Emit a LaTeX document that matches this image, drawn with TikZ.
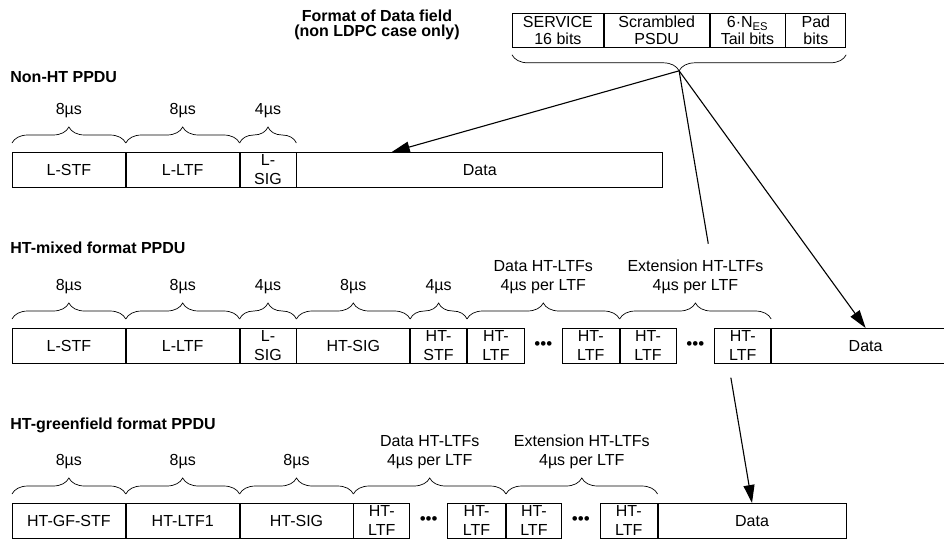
\documentclass[tikz,border=0pt]{standalone}
\usepackage{fontspec}
\setmainfont{Liberation Sans}
\usetikzlibrary{arrows.meta,positioning,calc,decorations.pathreplacing}
\tikzset{
  fld/.style={draw,minimum height=35pt,minimum width=#1,inner sep=0pt,align=center},
  bits/.style={draw,minimum height=34pt,minimum width=#1,inner sep=0pt,align=center,font=\fontsize{16pt}{17pt}\selectfont},
  ttl/.style={font=\fontsize{16pt}{16pt}\selectfont\bfseries,anchor=west,inner sep=0pt},
  brc/.style={decorate,decoration={brace,amplitude=16pt},line width=0.7pt},
  lbl/.style={midway,above=25pt,inner sep=0pt,align=center},
  dots/.style={font=\fontsize{17pt}{17pt}\selectfont,inner sep=0pt},
}

\begin{document}
\begin{tikzpicture}[x=1pt,y=-1pt,>={Triangle[length=18pt,width=11pt]},line width=0.8pt,font=\fontsize{16pt}{19pt}\selectfont]
  \clip (0,0) rectangle (944,539);
  % format of the data field
  \node[ttl,anchor=center,align=center,font=\fontsize{16pt}{15pt}\selectfont\bfseries] (fmtT) at (377,25) {Format of Data field\\(non LDPC case only)};
  \node[bits=91pt,anchor=north west] (svc) at (512,13) {SERVICE\\16 bits};
  \node[bits=105pt,right=0pt of svc] (psdu) {Scrambled\\PSDU};
  \node[bits=75pt,right=0pt of psdu] (tail) {6·N\textsubscript{ES}\\Tail bits};
  \node[bits=60pt,right=0pt of tail] (pad) {Pad\\bits};
  \draw[decorate,decoration={brace,mirror,amplitude=16pt},line width=0.7pt] ([yshift=-7pt]svc.south west) -- ([yshift=-7pt]pad.south east);
  \coordinate (fmt) at ($(svc.south west)!.5!(pad.south east)+(0,23)$);

  % Non-HT
  \node[ttl] (nhT) at (10,77) {Non-HT PPDU};
  \node[fld=113pt,anchor=north west] (nhA) at (12,152) {L-STF};
  \node[fld=113pt,right=0pt of nhA] (nhB) {L-LTF};
  \node[fld=56pt,right=0pt of nhB] (nhC) {L-\\SIG};
  \node[fld=366pt,right=0pt of nhC] (nhD) {Data};
  \draw[brc] ([yshift=9pt]nhA.north west) -- ([yshift=9pt]nhA.north east) node[lbl] {8µs};
  \draw[brc] ([yshift=9pt]nhB.north west) -- ([yshift=9pt]nhB.north east) node[lbl] {8µs};
  \draw[brc] ([yshift=9pt]nhC.north west) -- ([yshift=9pt]nhC.north east) node[lbl] {4µs};

  % HT-mixed
  \node[ttl] (mxT) at (10,248) {HT-mixed format PPDU};
  \node[fld=113pt,anchor=north west] (mxA) at (12,328) {L-STF};
  \node[fld=113pt,right=0pt of mxA] (mxB) {L-LTF};
  \node[fld=56pt,right=0pt of mxB] (mxC) {L-\\SIG};
  \node[fld=113pt,right=0pt of mxC] (mxD) {HT-SIG};
  \node[fld=56pt,right=0pt of mxD] (mxE) {HT-\\STF};
  \node[fld=57pt,right=0pt of mxE] (mxF) {HT-\\LTF};
  \node[fld=57pt,right=37pt of mxF] (mxG) {HT-\\LTF};
  \node[fld=56pt,right=0pt of mxG] (mxH) {HT-\\LTF};
  \node[fld=56pt,right=38pt of mxH] (mxI) {HT-\\LTF};
  \node[fld=188pt,right=0pt of mxI] (mxJ) {Data};
  \node[dots] (mxP) at ($(mxF.east)!.5!(mxG.west)$) {•••};
  \node[dots] (mxQ) at ($(mxH.east)!.5!(mxI.west)$) {•••};
  \draw[brc] ([yshift=9pt]mxA.north west) -- ([yshift=9pt]mxA.north east) node[lbl] {8µs};
  \draw[brc] ([yshift=9pt]mxB.north west) -- ([yshift=9pt]mxB.north east) node[lbl] {8µs};
  \draw[brc] ([yshift=9pt]mxC.north west) -- ([yshift=9pt]mxC.north east) node[lbl] {4µs};
  \draw[brc] ([yshift=9pt]mxD.north west) -- ([yshift=9pt]mxD.north east) node[lbl] {8µs};
  \draw[brc] ([yshift=9pt]mxE.north west) -- ([yshift=9pt]mxE.north east) node[lbl] {4µs};
  \draw[brc] ([yshift=9pt]mxF.north west) -- ([yshift=9pt]mxG.north east) node[lbl] {Data HT-LTFs\\4µs per LTF};
  \draw[brc] ([yshift=9pt]mxH.north west) -- ([yshift=9pt]mxI.north east) node[lbl] {Extension HT-LTFs\\4µs per LTF};

  % HT-greenfield
  \node[ttl] (gfT) at (10,425) {HT-greenfield format PPDU};
  \node[fld=113pt,anchor=north west] (gfA) at (12,503) {HT-GF-STF};
  \node[fld=113pt,right=0pt of gfA] (gfB) {HT-LTF1};
  \node[fld=113pt,right=0pt of gfB] (gfC) {HT-SIG};
  \node[fld=56pt,right=0pt of gfC] (gfD) {HT-\\LTF};
  \node[fld=58pt,right=37pt of gfD] (gfE) {HT-\\LTF};
  \node[fld=55pt,right=0pt of gfE] (gfF) {HT-\\LTF};
  \node[fld=57pt,right=38pt of gfF] (gfG) {HT-\\LTF};
  \node[fld=188pt,right=0pt of gfG] (gfH) {Data};
  \node[dots] (gfP) at ($(gfD.east)!.5!(gfE.west)$) {•••};
  \node[dots] (gfQ) at ($(gfF.east)!.5!(gfG.west)$) {•••};
  \draw[brc] ([yshift=9pt]gfA.north west) -- ([yshift=9pt]gfA.north east) node[lbl] {8µs};
  \draw[brc] ([yshift=9pt]gfB.north west) -- ([yshift=9pt]gfB.north east) node[lbl] {8µs};
  \draw[brc] ([yshift=9pt]gfC.north west) -- ([yshift=9pt]gfC.north east) node[lbl] {8µs};
  \draw[brc] ([yshift=9pt]gfD.north west) -- ([yshift=9pt]gfE.north east) node[lbl] {Data HT-LTFs\\4µs per LTF};
  \draw[brc] ([yshift=9pt]gfF.north west) -- ([yshift=9pt]gfG.north east) node[lbl] {Extension HT-LTFs\\4µs per LTF};

  % arrows from the data field
  \coordinate (nhTip) at ($(nhD.north west)!.26!(nhD.north east)$);
  \coordinate (cutA) at ($(fmt)!.4!(gfH.north)$);
  \coordinate (cutB) at ($(fmt)!.71!(gfH.north)$);
  \draw[->,line width=1.1pt] (fmt) -- (nhTip);
  \draw[->,line width=1.1pt] (fmt) -- (mxJ.north);
  \draw[line width=1.1pt] (fmt) -- (cutA);
  \draw[->,line width=1.1pt] (cutB) -- (gfH.north);
\end{tikzpicture}
\end{document}
